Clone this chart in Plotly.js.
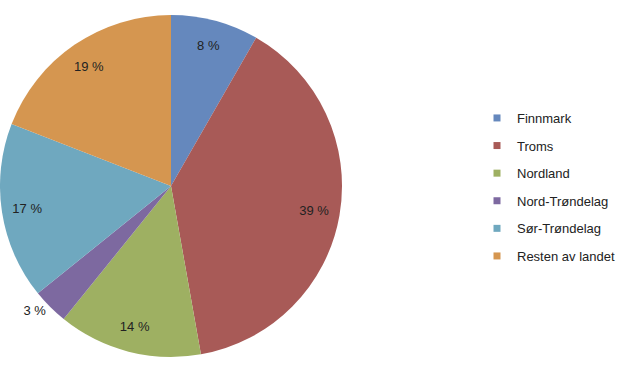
<!DOCTYPE html>
<html>
<head>
<meta charset="utf-8">
<script src="https://cdn.plot.ly/plotly-3.0.1.min.js"></script>
<style>html,body{margin:0;padding:0;background:#fff;}#chart{width:620px;height:372px;}</style>
</head>
<body>
<div id="chart"></div>
<script>
const categories = ["Finnmark", "Troms", "Nordland", "Nord-Trøndelag", "Sør-Trøndelag", "Resten av landet"];
const shares = [8.3, 38.9, 13.6, 3.4, 16.7, 19.1];
const shareLabels = ["8 %", "39 %", "14 %", "3 %", "17 %", "19 %"];
const colors = ["#6588BD", "#A85A57", "#9EB062", "#7D69A0", "#6FA8BF", "#D59650"];
const labelPositions = ["inside", "inside", "inside", "outside", "inside", "inside"];

const FONT = "Liberation Sans, Arial, sans-serif";
const pieDomain = {x: [0, 342/620], y: [15/372, 357/372]};

const pie = {
  type: "pie",
  labels: categories,
  values: shares,
  textinfo: "none",
  sort: false,
  direction: "clockwise",
  rotation: 0,
  marker: {colors: colors, line: {width: 0}},
  domain: pieDomain,
  showlegend: false,
  hoverinfo: "label+percent"
};

// transparent ring carrying the percentage labels
const labelRing = {
  type: "pie",
  labels: categories,
  values: shares,
  text: shareLabels,
  textinfo: "text",
  textposition: labelPositions,
  insidetextorientation: "horizontal",
  hole: 0.7,
  sort: false,
  direction: "clockwise",
  rotation: 0,
  marker: {colors: categories.map(() => "rgba(0,0,0,0)"), line: {width: 0}},
  textfont: {family: FONT, size: 13, color: "#222222"},
  domain: pieDomain,
  showlegend: false,
  hoverinfo: "skip"
};

const legendTraces = categories.map((c, i) => ({
  type: "scatter",
  mode: "markers",
  x: [null], y: [null],
  name: c,
  legendgroup: "g" + i,
  marker: {symbol: "square", size: 7, color: colors[i]},
  hoverinfo: "skip"
}));

const layout = {
  width: 620, height: 372,
  margin: {l: 0, r: 0, t: 0, b: 0},
  paper_bgcolor: "#ffffff",
  plot_bgcolor: "#ffffff",
  showlegend: true,
  xaxis: {visible: false, domain: [0.9, 1]},
  yaxis: {visible: false},
  legend: {
    x: 477/620, y: 1 - 103/372, xanchor: "left", yanchor: "top",
    font: {family: FONT, size: 13, color: "#222222"},
    tracegroupgap: 7.7,
    itemwidth: 30,
    bgcolor: "rgba(0,0,0,0)"
  }
};

Plotly.newPlot("chart", [pie, labelRing].concat(legendTraces), layout, {displayModeBar: false, staticPlot: true});
</script>
</body>
</html>
